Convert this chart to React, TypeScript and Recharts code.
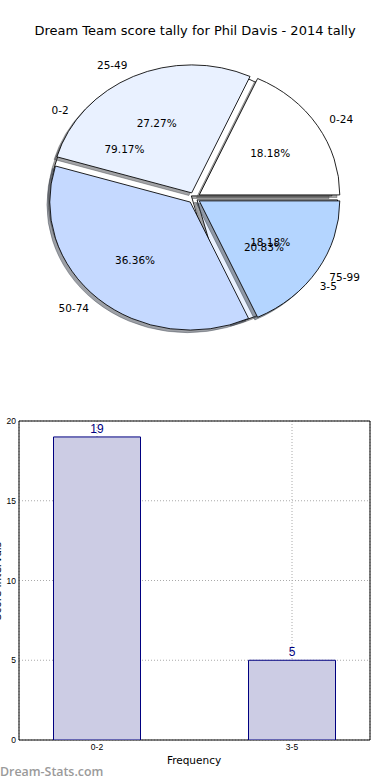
import React from 'react';
import { PieChart, Pie, Cell, Sector, BarChart, Bar, XAxis, YAxis, CartesianGrid, LabelList, ReferenceArea } from 'recharts';

// ---- data ----
const scoreBands = ['0-24', '25-49', '50-74', '75-99'];
const scoreBandCounts = [4, 6, 8, 4];
const scoreBandColors = ['#ffffff', '#e9f1ff', '#c5d9ff', '#b4d5ff'];

const freqBands = ['0-2', '3-5'];
const freqCounts = [19, 5];
const freqColors = ['#ffffff', '#e9f1ff'];

const yTicks = [0, 5, 10, 15, 20];
const xTicks = [0, 1];

const scoreData = scoreBands.map((name, i) => ({ name, value: scoreBandCounts[i] }));
const freqPieData = freqBands.map((name, i) => ({ name, value: freqCounts[i] }));
const barData = freqBands.map((name, i) => ({ x: i, name, value: freqCounts[i] }));

// ---- styling ----
const RAD = Math.PI / 180;
const K = 0.911; // vertical squash of the pie (non-equal aspect)
const EXPLODE = 6.05;
const EXPLODE2 = 3.6;
const SH_DX = -2.8;
const SH_DY = 2.6;
const PIE_FONT = '"DejaVu Sans", sans-serif';
const BAR_FONT = '"Liberation Sans", Arial, sans-serif';

function shadeOf(hex: string) {
  const h = hex.replace('#', '');
  const r = parseInt(h.slice(0, 2), 16);
  const g = parseInt(h.slice(2, 4), 16);
  const b = parseInt(h.slice(4, 6), 16);
  return `rgba(${Math.round(r * 0.3)},${Math.round(g * 0.3)},${Math.round(b * 0.3)},0.5)`;
}

const makeShape = (explode: number) => (props: any) => {
  const { cx, cy, midAngle, innerRadius, outerRadius, startAngle, endAngle, fill } = props;
  const ox = explode * Math.cos(midAngle * RAD);
  const oy = -explode * Math.sin(midAngle * RAD) * K;
  const shade = shadeOf(fill || '#ffffff');
  const sec = (tx: number, ty: number, f: string, s: string) => (
    <g transform={`translate(${cx + tx},${cy + ty}) scale(1,${K}) translate(${-cx},${-cy})`}>
      <Sector
        cx={cx}
        cy={cy}
        innerRadius={innerRadius}
        outerRadius={outerRadius}
        startAngle={startAngle}
        endAngle={endAngle}
        fill={f}
        stroke={s}
        strokeWidth={0.9}
      />
    </g>
  );
  return (
    <g>
      {sec(ox + SH_DX, oy + SH_DY, shade, shade)}
      {sec(ox, oy, fill, '#000')}
    </g>
  );
};

const makeLabel = (explode: number) => (props: any) => {
  const { cx, cy, midAngle, outerRadius, percent } = props;
  const name = props.name ?? props.payload?.name;
  const c = Math.cos(midAngle * RAD);
  const s = Math.sin(midAngle * RAD);
  const rn = 1.1 * outerRadius + explode;
  const rp = 0.6 * outerRadius + explode;
  return (
    <g>
      <text
        x={cx + rn * c}
        y={cy - rn * s * K}
        textAnchor={c < 0 ? 'end' : 'start'}
        dominantBaseline="central"
        fontFamily={PIE_FONT}
        fontSize={10.5}
        fill="#000"
      >
        {name}
      </text>
      <text
        x={cx + rp * c}
        y={cy - rp * s * K}
        textAnchor="middle"
        dominantBaseline="central"
        fontFamily={PIE_FONT}
        fontSize={10.5}
        fill="#000"
      >
        {(percent * 100).toFixed(2) + '%'}
      </text>
    </g>
  );
};

const CX = 194.2;
const CY = 197.9;
const R = 140.5;

export default function App() {
  return (
    <div
      style={{
        position: 'absolute',
        left: 0,
        top: 0,
        width: 390,
        height: 780,
        overflow: 'hidden',
        background: '#fff',
      }}
    >
      <div style={{ position: 'absolute', left: 0, top: 0 }}>
        <PieChart width={390} height={390} margin={{ top: 0, right: 0, bottom: 0, left: 0 }}>
          <Pie
            data={freqPieData}
            dataKey="value"
            nameKey="name"
            cx={CX}
            cy={CY}
            outerRadius={R}
            startAngle={0}
            endAngle={360}
            isAnimationActive={false}
            labelLine={false}
            shape={makeShape(EXPLODE2)}
            stroke="#000"
          >
            {freqPieData.map((d, i) => (
              <Cell key={d.name} fill={freqColors[i]} />
            ))}
          </Pie>
          <Pie
            data={scoreData}
            dataKey="value"
            nameKey="name"
            cx={CX}
            cy={CY}
            outerRadius={R}
            startAngle={0}
            endAngle={360}
            isAnimationActive={false}
            labelLine={false}
            label={makeLabel(EXPLODE)}
            shape={makeShape(EXPLODE)}
            stroke="#000"
          >
            {scoreData.map((d, i) => (
              <Cell key={d.name} fill={scoreBandColors[i]} />
            ))}
          </Pie>
          <Pie
            data={freqPieData}
            dataKey="value"
            nameKey="name"
            cx={CX}
            cy={CY}
            outerRadius={R}
            startAngle={0}
            endAngle={360}
            isAnimationActive={false}
            labelLine={false}
            label={makeLabel(EXPLODE2)}
            fill="none"
            stroke="none"
            shape={() => <g />}
          />
        </PieChart>
      </div>

      <div style={{ position: 'absolute', left: 0, top: 400 }}>
        <BarChart width={390} height={380} data={barData} margin={{ top: 21, right: 20, bottom: 20, left: 0 }}>
          <XAxis
            dataKey="x"
            type="number"
            domain={[-0.4, 1.4]}
            ticks={xTicks}
            tickFormatter={(v: number) => freqBands[v]}
            height={20}
            tickSize={0}
            tickMargin={4}
            axisLine={false}
            tickLine={false}
            allowDataOverflow
            tick={{ fontSize: 8.5, fill: '#000', fontFamily: BAR_FONT }}
          />
          <YAxis
            type="number"
            domain={[0, 20]}
            ticks={yTicks}
            width={19}
            tickSize={0}
            tickMargin={3}
            axisLine={false}
            tickLine={false}
            allowDataOverflow
            tick={{ fontSize: 8.5, fill: '#000', fontFamily: BAR_FONT }}
          />
          <Bar dataKey="value" barSize={87} fill="#ccccE4" stroke="#000080" strokeWidth={1} isAnimationActive={false}>
            <LabelList dataKey="value" position="top" offset={4} fill="#000080" fontSize={12} fontFamily={BAR_FONT} />
          </Bar>
          <CartesianGrid strokeDasharray="1 2" stroke="#aaaaaa" />
          <ReferenceArea x1={-0.4} x2={1.4} y1={0} y2={20} fill="none" stroke="#000" strokeWidth={1} ifOverflow="visible" />
        </BarChart>
      </div>

      <svg
        width={390}
        height={780}
        style={{ position: 'absolute', left: 0, top: 0, pointerEvents: 'none' }}
      >
        <text x={195} y={30} textAnchor="middle" dominantBaseline="central" fontFamily={PIE_FONT} fontSize={13} fill="#000">
          Dream Team score tally for Phil Davis - 2014 tally
        </text>
        <text x={194} y={760} textAnchor="middle" dominantBaseline="central" fontFamily={PIE_FONT} fontSize={10.5} fill="#000">
          Frequency
        </text>
        <text
          transform="translate(1,581) rotate(-90)"
          x={0}
          y={0}
          textAnchor="middle"
          fontFamily={PIE_FONT}
          fontSize={10.5}
          fill="#000"
        >
          Score Intervals
        </text>
        <text x={0} y={775.5} fontFamily='"Open Sans", sans-serif' fontWeight={600} fontSize={12.4} fill="#9a9a9a">
          Dream-Stats.com
        </text>
      </svg>
    </div>
  );
}
